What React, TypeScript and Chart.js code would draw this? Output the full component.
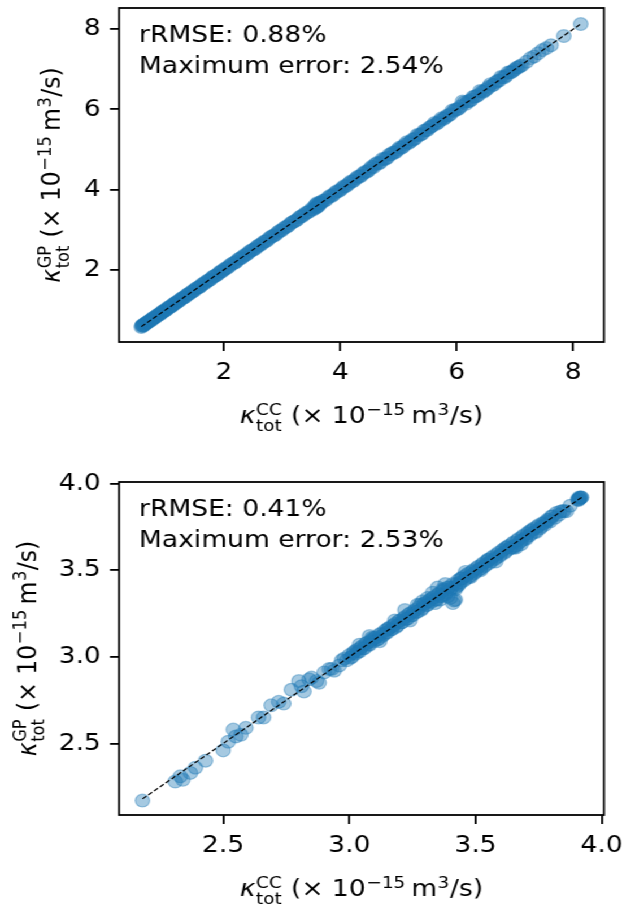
import React, { useEffect, useRef } from "react";
import { Chart, registerables } from "chart.js";

Chart.register(...registerables);

// ---------- data ----------
const topX = [
  0.58, 0.59, 0.61, 0.62, 0.64, 0.66, 0.68, 0.7, 0.72, 0.75,
  0.77, 0.8, 0.83, 0.85, 0.88, 0.91, 0.94, 0.97, 1.0, 1.04,
  1.07, 1.11, 1.14, 1.18, 1.22, 1.26, 1.3, 1.34, 1.38, 1.42,
  1.47, 1.51, 1.56, 1.6, 1.65, 1.7, 1.75, 1.8, 1.85, 1.9,
  1.95, 2.0,
  2.05, 2.1, 2.16, 2.21, 2.27, 2.32, 2.38, 2.43, 2.49, 2.55,
  2.6, 2.66, 2.72, 2.78, 2.84, 2.9, 2.96, 3.02, 3.08, 3.14,
  3.2, 3.26, 3.32, 3.38, 3.44, 3.5,
  3.53, 3.55, 3.57, 3.58, 3.59, 3.6, 3.61, 3.62, 3.63, 3.64, 3.66,
  3.7, 3.76, 3.82, 3.88, 3.94, 4.0, 4.06, 4.12, 4.18, 4.24,
  4.3, 4.36, 4.42, 4.48, 4.54, 4.6, 4.66, 4.72, 4.78, 4.84,
  4.9, 4.96, 5.02, 5.08, 5.14, 5.2, 5.26, 5.32, 5.38, 5.44,
  5.5, 5.56, 5.62, 5.68, 5.74, 5.8, 5.86, 5.92, 5.98, 6.04,
  6.1, 6.16, 6.22, 6.28, 6.34, 6.4, 6.46, 6.52, 6.58, 6.64,
  6.7, 6.76, 6.82, 6.88, 6.94, 7.0, 7.06, 7.12,
  7.2, 7.27, 7.33, 7.4, 7.47, 7.54, 7.62, 7.84, 8.13,
  0.6, 0.63, 0.65, 0.69, 0.73, 0.76, 0.79, 0.82, 0.86, 0.9,
  0.93, 0.96, 0.99, 1.02, 1.06, 1.09, 1.13, 1.16, 1.2, 1.24,
  1.28, 1.32, 1.36, 1.4, 1.45, 1.49, 1.53, 1.58, 1.62, 1.67,
  1.72, 1.77, 1.82, 1.87, 1.92, 1.97, 2.02, 2.08, 2.13, 2.19,
  2.24, 2.3, 2.35, 2.41, 2.46, 2.52, 2.57, 2.63, 2.69, 2.75,
  2.81, 2.87, 2.93, 2.99, 3.05, 3.11, 3.17, 3.23, 3.29, 3.35,
  3.41, 3.47, 3.67, 3.73, 3.79, 3.85, 3.91, 3.97, 4.03, 4.09,
  4.15, 4.21, 4.27, 4.33, 4.39, 4.45, 4.51, 4.57, 4.63, 4.69,
  4.75, 4.81, 4.87, 4.93, 4.99, 5.05, 5.11, 5.17, 5.23, 5.29,
  5.35, 5.41, 5.47, 5.53, 5.59, 5.65, 5.71, 5.77, 5.83, 5.89,
  5.95, 6.01, 6.07, 6.13, 6.19, 6.25, 6.31, 6.37, 6.43, 6.49,
  6.55, 6.61, 6.67, 6.73, 6.79, 6.85, 6.91, 6.97, 7.03, 7.09,
];
const topY = [
  0.57, 0.6, 0.6, 0.63, 0.64, 0.67, 0.68, 0.71, 0.72, 0.74,
  0.78, 0.8, 0.82, 0.86, 0.88, 0.9, 0.95, 0.97, 0.99, 1.05,
  1.07, 1.1, 1.15, 1.18, 1.21, 1.27, 1.3, 1.33, 1.39, 1.42,
  1.46, 1.52, 1.56, 1.59, 1.66, 1.7, 1.74, 1.81, 1.85, 1.89,
  1.96, 2.0,
  2.04, 2.11, 2.16, 2.2, 2.28, 2.32, 2.37, 2.44, 2.49, 2.54,
  2.61, 2.66, 2.71, 2.79, 2.84, 2.89, 2.97, 3.02, 3.07, 3.15,
  3.2, 3.25, 3.33, 3.38, 3.43, 3.51,
  3.5, 3.57, 3.54, 3.62, 3.56, 3.66, 3.58, 3.64, 3.6, 3.67, 3.65,
  3.72, 3.75, 3.84, 3.87, 3.96, 3.99, 4.08, 4.11, 4.2, 4.23,
  4.32, 4.35, 4.44, 4.47, 4.57, 4.63, 4.65, 4.76, 4.77, 4.87,
  4.92, 4.95, 5.05, 5.07, 5.18, 5.19, 5.25, 5.36, 5.37, 5.47,
  5.49, 5.57, 5.66, 5.67, 5.78, 5.79, 5.85, 5.97, 6.0, 6.03,
  6.2, 6.14, 6.21, 6.31, 6.33, 6.46, 6.44, 6.51, 6.63, 6.62,
  6.71, 6.81, 6.8, 6.92, 6.93, 7.0, 7.05, 7.1,
  7.19, 7.28, 7.32, 7.4, 7.48, 7.53, 7.6, 7.83, 8.13,
  0.61, 0.62, 0.66, 0.68, 0.74, 0.75, 0.8, 0.81, 0.87, 0.89,
  0.94, 0.95, 1.0, 1.01, 1.07, 1.08, 1.14, 1.15, 1.21, 1.23,
  1.29, 1.31, 1.37, 1.39, 1.46, 1.48, 1.54, 1.57, 1.63, 1.66,
  1.73, 1.76, 1.83, 1.86, 1.93, 1.96, 2.03, 2.07, 2.14, 2.18,
  2.25, 2.29, 2.36, 2.4, 2.47, 2.51, 2.58, 2.62, 2.7, 2.74,
  2.82, 2.86, 2.94, 2.98, 3.06, 3.1, 3.18, 3.22, 3.3, 3.34,
  3.42, 3.46, 3.68, 3.72, 3.8, 3.84, 3.92, 3.96, 4.04, 4.08,
  4.16, 4.2, 4.28, 4.32, 4.4, 4.44, 4.52, 4.56, 4.66, 4.68,
  4.76, 4.8, 4.88, 4.92, 5.0, 5.04, 5.12, 5.16, 5.24, 5.28,
  5.36, 5.4, 5.48, 5.55, 5.6, 5.64, 5.72, 5.76, 5.84, 5.88,
  5.96, 6.0, 6.08, 6.18, 6.2, 6.24, 6.32, 6.36, 6.44, 6.48,
  6.56, 6.6, 6.68, 6.72, 6.8, 6.84, 6.92, 6.96, 7.04, 7.08,
];

const bottomX = [
  2.18, 2.31, 2.33, 2.34, 2.37, 2.39, 2.43, 2.5, 2.52, 2.54,
  2.55, 2.57, 2.59, 2.64, 2.66, 2.69, 2.72, 2.74, 2.77, 2.8,
  2.82, 2.84, 2.88, 2.9, 2.93, 2.96, 2.98,
  3.0, 3.01, 3.02, 3.03, 3.04, 3.05, 3.06, 3.07, 3.08, 3.09,
  3.1, 3.11, 3.12, 3.13, 3.14, 3.15, 3.16, 3.17, 3.18, 3.19,
  3.2, 3.21, 3.22, 3.23, 3.24, 3.25, 3.26, 3.27, 3.28, 3.29,
  3.3, 3.31, 3.32, 3.33, 3.34, 3.35, 3.36, 3.37, 3.38, 3.39,
  3.4, 3.41, 3.42, 3.43, 3.44, 3.45, 3.46, 3.47, 3.48, 3.49,
  3.5, 3.51, 3.52, 3.53, 3.54, 3.55, 3.56, 3.57, 3.58, 3.59,
  3.6, 3.61, 3.62, 3.63, 3.64, 3.65, 3.66, 3.67, 3.68, 3.69,
  3.7, 3.71, 3.72, 3.73, 3.74, 3.75, 3.76, 3.77, 3.78, 3.79,
  3.8, 3.82, 3.83, 3.85, 3.86, 3.91, 3.91, 3.92,
  2.81, 2.85, 2.87, 2.92, 2.94, 2.97, 2.99,
  3.04, 3.08, 3.09, 3.12, 3.15, 3.18, 3.22, 3.24, 3.27, 3.29,
  3.31, 3.33, 3.34, 3.35, 3.36, 3.37, 3.38, 3.39, 3.4, 3.41,
  3.42, 3.42, 3.43, 3.44, 3.46, 3.48, 3.52, 3.55, 3.58, 3.62,
  3.65, 3.66, 3.7, 3.72, 3.68,
  3.005, 3.015, 3.025, 3.035, 3.045, 3.055, 3.065, 3.075, 3.085, 3.095,
  3.105, 3.115, 3.125, 3.135, 3.145, 3.155, 3.165, 3.175, 3.185, 3.195,
  3.205, 3.215, 3.225, 3.235, 3.245, 3.255, 3.265, 3.275, 3.285, 3.295,
  3.305, 3.315, 3.325, 3.335, 3.345, 3.355, 3.365, 3.375, 3.385, 3.395,
  3.405, 3.415, 3.425, 3.435, 3.445, 3.455, 3.465, 3.475, 3.485, 3.495,
  3.505, 3.515, 3.525, 3.535, 3.545, 3.555, 3.565, 3.575, 3.585, 3.595,
  3.605, 3.615, 3.625, 3.635, 3.645, 3.655, 3.665, 3.675, 3.685, 3.695,
  3.705, 3.715, 3.725, 3.735, 3.745, 3.755, 3.765, 3.775, 3.785, 3.795,
  3.805, 3.815, 3.835, 3.845, 3.875, 3.905, 3.915, 3.912, 3.908, 3.918,
];
const bottomY = [
  2.17, 2.28, 2.31, 2.29, 2.33, 2.36, 2.4, 2.46, 2.51, 2.58,
  2.54, 2.55, 2.59, 2.65, 2.65, 2.72, 2.74, 2.73, 2.81, 2.86,
  2.8, 2.87, 2.85, 2.91, 2.93, 2.95, 2.99,
  3.01, 3.0, 3.03, 3.04, 3.03, 3.06, 3.05, 3.08, 3.07, 3.1,
  3.11, 3.1, 3.13, 3.12, 3.15, 3.14, 3.17, 3.16, 3.19, 3.18,
  3.21, 3.2, 3.23, 3.22, 3.25, 3.24, 3.27, 3.26, 3.3, 3.28,
  3.31, 3.3, 3.33, 3.34, 3.33, 3.36, 3.35, 3.38, 3.36, 3.4,
  3.39, 3.42, 3.4, 3.44, 3.43, 3.46, 3.45, 3.48, 3.47, 3.5,
  3.49, 3.52, 3.51, 3.54, 3.53, 3.56, 3.55, 3.58, 3.57, 3.6,
  3.59, 3.62, 3.61, 3.64, 3.63, 3.66, 3.64, 3.68, 3.67, 3.7,
  3.69, 3.72, 3.71, 3.74, 3.72, 3.76, 3.75, 3.77, 3.78, 3.79,
  3.81, 3.83, 3.82, 3.84, 3.84, 3.91, 3.92, 3.92,
  2.83, 2.88, 2.86, 2.93, 2.92, 2.98, 2.98,
  3.07, 3.12, 3.11, 3.09, 3.16, 3.21, 3.27, 3.21, 3.3, 3.32,
  3.34, 3.37, 3.31, 3.4, 3.33, 3.39, 3.42, 3.35, 3.34, 3.31,
  3.33, 3.39, 3.41, 3.45, 3.49, 3.46, 3.5, 3.56, 3.55, 3.63,
  3.63, 3.63, 3.68, 3.73, 3.65,
  2.995, 3.022, 3.018, 3.031, 3.052, 3.049, 3.078, 3.071, 3.092, 3.088,
  3.112, 3.103, 3.131, 3.127, 3.139, 3.162, 3.158, 3.181, 3.172, 3.205,
  3.198, 3.222, 3.219, 3.245, 3.238, 3.262, 3.259, 3.284, 3.271, 3.305,
  3.298, 3.322, 3.318, 3.345, 3.329, 3.362, 3.351, 3.388, 3.372, 3.401,
  3.398, 3.325, 3.421, 3.419, 3.452, 3.441, 3.472, 3.462, 3.491, 3.482,
  3.512, 3.505, 3.531, 3.522, 3.552, 3.541, 3.572, 3.563, 3.591, 3.582,
  3.612, 3.601, 3.632, 3.623, 3.652, 3.641, 3.672, 3.661, 3.692, 3.681,
  3.712, 3.701, 3.731, 3.722, 3.751, 3.741, 3.771, 3.762, 3.791, 3.781,
  3.811, 3.803, 3.838, 3.842, 3.872, 3.908, 3.918, 3.915, 3.905, 3.92,
];

const topTicks = [2, 4, 6, 8];
const bottomTicks = [2.5, 3.0, 3.5, 4.0];
const topNotes = ["rRMSE: 0.88%", "Maximum error: 2.54%"];
const bottomNotes = ["rRMSE: 0.41%", "Maximum error: 2.53%"];
const topRange = [0.196, 8.53];
const bottomRange = [2.087, 4.009];
const topLine = [0.58, 8.13];
const bottomLine = [2.18, 3.92];

// ---------- layout ----------
const FIG_W = 635;
const W = 562; // drawing width before the horizontal stretch
const SX = FIG_W / W;
const H = 452;
const FAMILY = '"DejaVu Sans", "Liberation Sans", sans-serif';
const FS = 23.5;
const AREA_LEFT = 119 / SX;
const AREA_RIGHT = 604 / SX;
const NOTE_DX = 20 / SX;

type Part = { t?: string; it?: boolean; sub?: string; sup?: string };

const xLabelParts: Part[] = [
  { t: "κ", it: true },
  { sub: "tot", sup: "CC" },
  { t: " (× 10" },
  { sup: "−15" },
  { t: "\u2009m" },
  { sup: "3" },
  { t: "/s)" },
];
const yLabelParts: Part[] = [
  { t: "κ", it: true },
  { sub: "tot", sup: "GP" },
  { t: " (× 10" },
  { sup: "−15" },
  { t: "\u2009m" },
  { sup: "3" },
  { t: "/s)" },
];

function drawMath(ctx: CanvasRenderingContext2D, parts: Part[], cx: number, by: number) {
  const main = `${FS}px ${FAMILY}`;
  const ital = `italic ${FS}px ${FAMILY}`;
  const small = `${(FS * 0.7).toFixed(1)}px ${FAMILY}`;
  const widths = parts.map((p) => {
    if (p.t !== undefined) {
      ctx.font = p.it ? ital : main;
      return ctx.measureText(p.t).width;
    }
    ctx.font = small;
    const a = p.sub ? ctx.measureText(p.sub).width : 0;
    const b = p.sup ? ctx.measureText(p.sup).width : 0;
    return Math.max(a, b) + 1;
  });
  const total = widths.reduce((s, w) => s + w, 0);
  let x = cx - total / 2;
  ctx.textAlign = "left";
  ctx.textBaseline = "alphabetic";
  parts.forEach((p, i) => {
    if (p.t !== undefined) {
      ctx.font = p.it ? ital : main;
      ctx.fillText(p.t, x, by);
    } else {
      ctx.font = small;
      if (p.sub) ctx.fillText(p.sub, x + 0.5, by + 7.5);
      if (p.sup) ctx.fillText(p.sup, x + 0.5, by - 8.5);
    }
    x += widths[i];
  });
}

function makeDecor(notes: string[], yLabelX: number) {
  return {
    id: "decor",
    afterDraw(chart: any) {
      const { ctx, chartArea: a } = chart;
      ctx.save();
      ctx.strokeStyle = "#000";
      ctx.lineWidth = 1.8;
      ctx.strokeRect(a.left, a.top, a.right - a.left, a.bottom - a.top);
      ctx.fillStyle = "#000";
      ctx.font = `${FS}px ${FAMILY}`;
      ctx.textAlign = "left";
      ctx.textBaseline = "alphabetic";
      notes.forEach((t, i) => ctx.fillText(t, a.left + NOTE_DX, a.top + 33.5 + i * 31.5));
      drawMath(ctx, xLabelParts, (a.left + a.right) / 2, a.bottom + 81);
      ctx.translate(yLabelX, (a.top + a.bottom) / 2);
      ctx.rotate(-Math.PI / 2);
      drawMath(ctx, yLabelParts, 0, 0);
      ctx.restore();
    },
  };
}

function makeConfig(
  xs: number[],
  ys: number[],
  range: number[],
  ticks: number[],
  fmt: (v: number) => string,
  line: number[],
  notes: string[],
  areaTop: number,
  areaBottom: number,
  yLabelX: number
): any {
  const axis = (isX: boolean) => ({
    type: "linear",
    min: range[0],
    max: range[1],
    afterBuildTicks: (s: any) => {
      s.ticks = ticks.map((v) => ({ value: v }));
    },
    afterFit: (s: any) => {
      if (isX) s.height = H - areaBottom;
      else s.width = AREA_LEFT;
      s.paddingLeft = 0;
      s.paddingRight = 0;
      s.paddingTop = 0;
      s.paddingBottom = 0;
    },
    ticks: {
      callback: (v: number) => fmt(v),
      font: { family: FAMILY, size: FS },
      color: "#000",
      padding: 8,
      maxRotation: 0,
      minRotation: 0,
      autoSkip: false,
    },
    grid: {
      display: true,
      drawOnChartArea: false,
      drawTicks: true,
      tickLength: isX ? 9 : 8,
      color: "#000",
      lineWidth: 1.8,
    },
    border: { display: false },
  });
  return {
    type: "scatter",
    data: {
      datasets: [
        {
          data: line.map((v) => ({ x: v, y: v })),
          showLine: true,
          borderColor: "#000",
          borderWidth: 1.2,
          borderDash: [4.3, 2.2],
          pointRadius: 0,
          order: 0,
        },
        {
          data: xs.map((x, i) => ({ x, y: ys[i] })),
          pointRadius: 6.4,
          pointBackgroundColor: "rgba(31,119,180,0.4)",
          pointBorderColor: "rgba(31,119,180,0.4)",
          pointBorderWidth: 1.2,
          order: 1,
        },
      ],
    },
    options: {
      responsive: false,
      animation: false,
      events: [],
      layout: { padding: { left: 0, right: W - AREA_RIGHT, top: areaTop, bottom: 0 } },
      plugins: { legend: { display: false }, tooltip: { enabled: false } },
      scales: { x: axis(true), y: axis(false) },
    },
    plugins: [makeDecor(notes, yLabelX)],
  };
}

function Panel(props: { cfg: () => any }) {
  const ref = useRef<HTMLCanvasElement | null>(null);
  useEffect(() => {
    if (!ref.current) return;
    const chart = new Chart(ref.current, props.cfg());
    return () => chart.destroy();
  }, []);
  return (
    <canvas
      ref={ref}
      width={W}
      height={H}
      style={{ display: "block", width: W, height: H }}
    />
  );
}

export default function App() {
  return (
    <div
      style={{
        position: "absolute",
        left: 0,
        top: 0,
        width: W,
        height: 2 * H,
        background: "#fff",
        transform: `scaleX(${SX})`,
        transformOrigin: "0 0",
      }}
    >
      <Panel
        cfg={() =>
          makeConfig(topX, topY, topRange, topTicks, (v) => String(v), topLine, topNotes, 8, 342, 60 / SX)
        }
      />
      <Panel
        cfg={() =>
          makeConfig(bottomX, bottomY, bottomRange, bottomTicks, (v) => v.toFixed(1), bottomLine, bottomNotes, 30, 363, 36 / SX)
        }
      />
    </div>
  );
}
